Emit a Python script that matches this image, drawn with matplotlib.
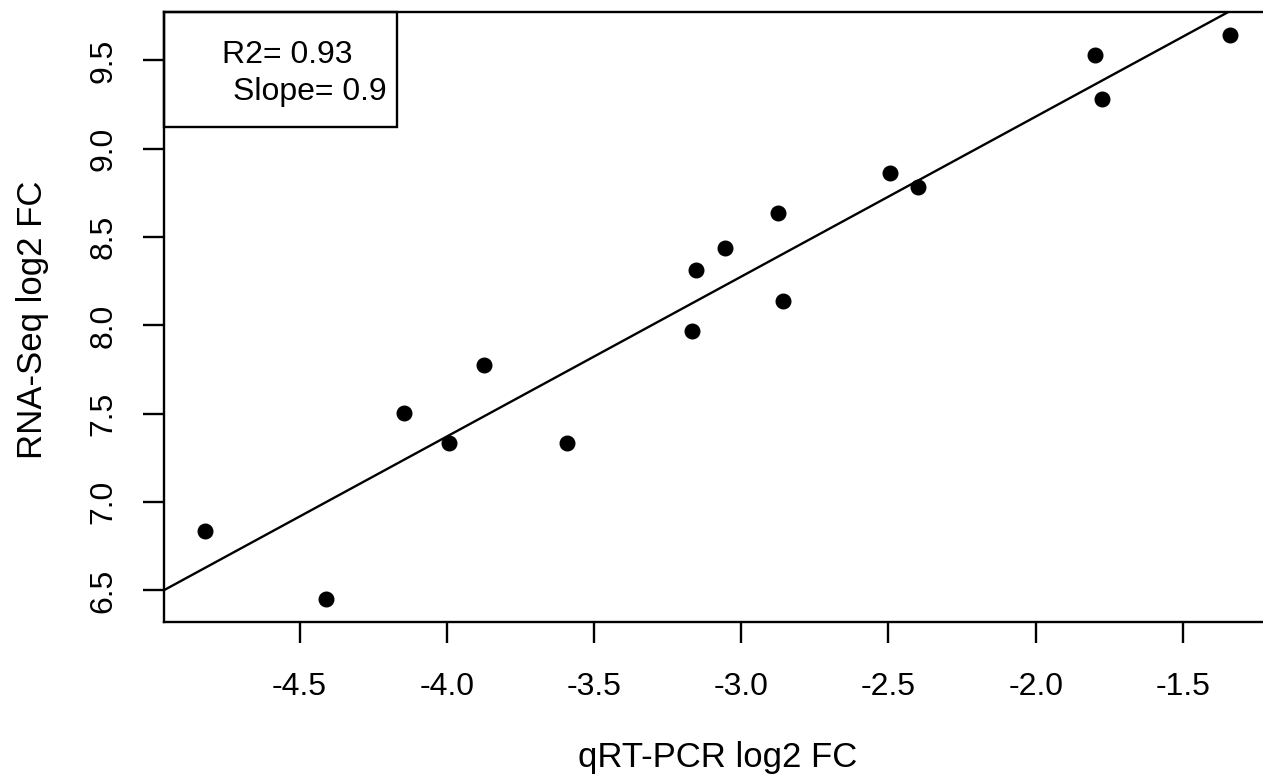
#!/usr/bin/env python3
"""RNA-Seq vs qRT-PCR log2 fold change, with linear fit (R base-plot look)."""

import numpy as np
import matplotlib
matplotlib.use('Agg')
import matplotlib.pyplot as plt
from matplotlib.patches import Rectangle

# qRT-PCR log2 FC (x) and RNA-Seq log2 FC (y)
qpcr = [-4.821, -4.410, -4.145, -3.991, -3.873, -3.590, -3.166, -3.153,
        -3.054, -2.874, -2.857, -2.494, -2.398, -1.797, -1.775, -1.340]
rnaseq = [6.836, 6.449, 7.506, 7.335, 7.777, 7.335, 7.970, 8.313,
          8.437, 8.638, 8.137, 8.865, 8.786, 9.531, 9.284, 9.646]

x_ticks = [-4.5, -4.0, -3.5, -3.0, -2.5, -2.0, -1.5]
y_ticks = [6.5, 7.0, 7.5, 8.0, 8.5, 9.0, 9.5]
stats_lines = ['R2= 0.93', 'Slope= 0.9']

W, H = 1263, 778
plt.rcParams['font.family'] = ['Liberation Sans', 'DejaVu Sans']


def px(x, y):
    """pixel (from top-left) -> figure fraction"""
    return x / W, 1 - y / H


fig = plt.figure(figsize=(W / 100, H / 100), dpi=100)
# plot region runs off the right edge, as in the original
left, right, top, bottom = 164, 1271, 12, 622
ax = fig.add_axes([left / W, 1 - bottom / H, (right - left) / W, (bottom - top) / H])

x = np.array(qpcr)
y = np.array(rnaseq)
ax.plot(x, y, 'o', color='black', markersize=10.5, zorder=3)

# R's default 4% axis padding
xr = x.max() - x.min()
yr = y.max() - y.min()
ax.set_xlim(x.min() - 0.04 * xr, x.max() + 0.04 * xr)
ax.set_ylim(y.min() - 0.04 * yr, y.max() + 0.04 * yr)

# abline(lm(y ~ x))
slope, intercept = np.polyfit(x, y, 1)
xl = np.array(ax.get_xlim())
ax.plot(xl, intercept + slope * xl, color='black', linewidth=1.7, zorder=2)
ax.set_xlim(xl)

for s in ax.spines.values():
    s.set_linewidth(1.7)

ax.set_xticks(x_ticks)
ax.set_xticklabels([f'{v:.1f}' for v in x_ticks])
ax.set_yticks(y_ticks)
ax.set_yticklabels([f'{v:.1f}' for v in y_ticks], rotation=90, va='center')
ax.tick_params(length=15, width=1.7, labelsize=23, pad=21)
ax.tick_params(axis='y', pad=18)

fig.text(*px(718, 757), 'qRT-PCR log2 FC', fontsize=25, ha='center', va='center')
fig.text(*px(33, 320), 'RNA-Seq log2 FC', fontsize=25, ha='center', va='center',
         rotation=90)

# stats box in the top-left corner
x0, y0 = px(164, 127)
x1, y1 = px(397, 12)
fig.add_artist(Rectangle((x0, y0), x1 - x0, y1 - y0, transform=fig.transFigure,
                         fill=False, edgecolor='black', linewidth=1.7, zorder=5))
fig.text(*px(222, 63), stats_lines[0], fontsize=23, ha='left', va='baseline')
fig.text(*px(233, 100), stats_lines[1], fontsize=23, ha='left', va='baseline')

fig.savefig('out.png', dpi=100)
